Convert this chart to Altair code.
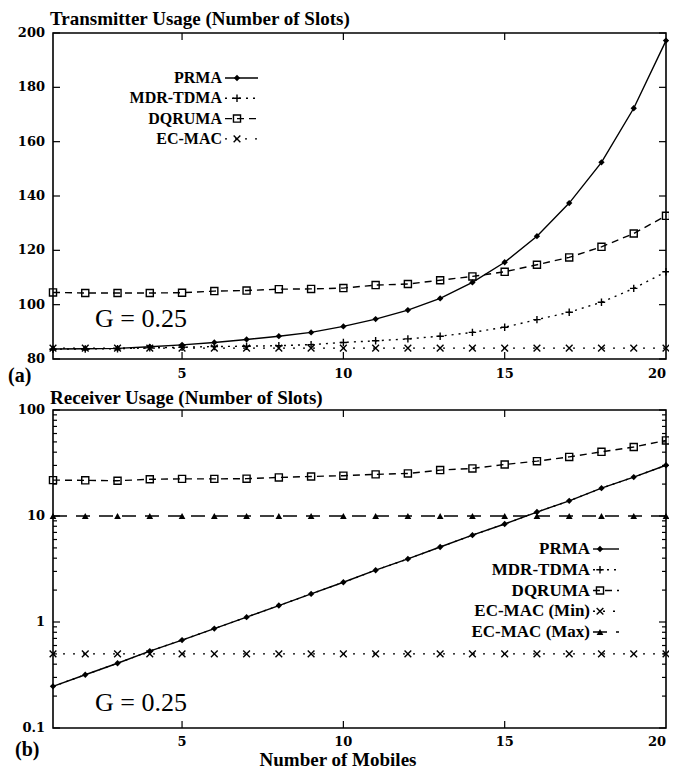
import altair as alt
import pandas as pd

# ---------------- data ----------------
mobiles = list(range(1, 21))

# (a) Transmitter usage (number of slots)
tx_prma = [83.7, 83.8, 83.9, 84.5, 85.2, 86.1, 87.2, 88.4, 89.8, 92.0,
           94.7, 98.0, 102.3, 108.2, 115.6, 125.2, 137.4, 152.4, 172.3, 197.2]
tx_mdr = [83.6, 83.7, 83.8, 84.1, 84.3, 84.6, 84.7, 84.9, 85.3, 86.1,
          86.7, 87.4, 88.4, 89.8, 91.7, 94.5, 97.2, 100.9, 106.0, 112.1]
tx_dqruma = [104.5, 104.3, 104.3, 104.3, 104.4, 105.0, 105.2, 105.7, 105.8, 106.1,
             107.2, 107.6, 109.0, 110.4, 112.1, 114.7, 117.4, 121.3, 126.2, 132.7]
tx_ecmac = [84.0, 84.0, 84.0, 84.0, 84.0, 84.0, 84.0, 84.0, 84.0, 84.0,
            84.0, 84.0, 84.0, 84.0, 84.0, 84.0, 84.0, 84.0, 84.0, 84.0]

# (b) Receiver usage (number of slots), log scale
rx_prma = [0.247, 0.318, 0.408, 0.532, 0.675, 0.867, 1.11, 1.43, 1.84, 2.37,
           3.08, 3.94, 5.1, 6.6, 8.4, 10.9, 13.9, 18.3, 23.3, 30.1]
rx_mdr = [0.247, 0.318, 0.408, 0.532, 0.675, 0.867, 1.11, 1.43, 1.84, 2.37,
          3.08, 3.94, 5.1, 6.6, 8.4, 10.9, 13.9, 18.3, 23.3, 30.1]
rx_dqruma = [21.8, 21.7, 21.5, 22.2, 22.4, 22.4, 22.5, 23.1, 23.6, 24.0,
             24.7, 25.2, 27.1, 28.1, 30.6, 32.9, 36.1, 40.3, 44.8, 51.6]
rx_ecmac_min = [0.5, 0.5, 0.5, 0.5, 0.5, 0.5, 0.5, 0.5, 0.5, 0.5,
                0.5, 0.5, 0.5, 0.5, 0.5, 0.5, 0.5, 0.5, 0.5, 0.5]
rx_ecmac_max = [10, 10, 10, 10, 10, 10, 10, 10, 10, 10,
                10, 10, 10, 10, 10, 10, 10, 10, 10, 10]

legend_a = ["PRMA", "MDR-TDMA", "DQRUMA", "EC-MAC"]
legend_b = ["PRMA", "MDR-TDMA", "DQRUMA", "EC-MAC (Min)", "EC-MAC (Max)"]

x_ticks = [5, 10, 15, 20]
ya_ticks = [80, 100, 120, 140, 160, 180, 200]
ya_labels = ["80", "100", "120", "140", "160", "180", "200"]
yb_ticks = [0.1, 1, 10, 100]
yb_labels = ["0.1", "1", "10", "100"]
yb_minor = [0.2, 0.3, 0.4, 0.5, 0.6, 0.7, 0.8, 0.9,
            2, 3, 4, 5, 6, 7, 8, 9,
            20, 30, 40, 50, 60, 70, 80, 90]

# ---------------- layout (pixels inside one canvas) ----------------
CW, CH = 661, 760
PX0, PX1 = 45, 658
A_TOP, A_BOT = 25, 351
B_TOP, B_BOT = 402, 720

SERIF = "Liberation Serif"
TICKFONT = "DejaVu Serif"
PLUS = "M-1,0L1,0M0,-1L0,1"
CROSS = "M-1,-1L1,1M-1,1L1,-1"

styles = {
    "PRMA": dict(dash=None, shape="diamond", filled=True, size=40),
    "MDR-TDMA": dict(dash=[2, 5], shape=PLUS, filled=False, size=55),
    "DQRUMA": dict(dash=[7, 5], shape="square", filled=False, size=50),
    "EC-MAC": dict(dash=[2, 8], shape=CROSS, filled=False, size=45),
    "EC-MAC (Min)": dict(dash=[2, 8], shape=CROSS, filled=False, size=45),
    "EC-MAC (Max)": dict(dash=[14, 9], shape="triangle-up", filled=True, size=45),
}


def xs():
    return alt.Scale(domain=[1, 20], range=[PX0, PX1], nice=False, zero=False)


def ya():
    return alt.Scale(domain=[80, 200], range=[A_BOT, A_TOP], nice=False, zero=False)


def yb():
    return alt.Scale(type="log", domain=[0.1, 100], range=[B_BOT, B_TOP], nice=False)


def series(name, values, yscale_fn, points=True):
    st = styles[name]
    df = pd.DataFrame({"m": mobiles, "v": values})
    enc = dict(x=alt.X("m:Q", scale=xs(), axis=None),
               y=alt.Y("v:Q", scale=yscale_fn(), axis=None))
    lkw = dict(color="black", strokeWidth=1.4)
    if st["dash"]:
        lkw["strokeDash"] = st["dash"]
    out = [alt.Chart(df).mark_line(**lkw).encode(**enc)]
    if points:
        out.append(alt.Chart(df).mark_point(shape=st["shape"], filled=st["filled"], size=st["size"],
                                            color="black", strokeWidth=1.4, opacity=1).encode(**enc))
    return out


def frame(top, bot):
    d = pd.DataFrame({"k": [0]})
    return alt.Chart(d).mark_rect(fillOpacity=0, stroke="black", strokeWidth=1.6).encode(
        x=alt.value(PX0), x2=alt.value(PX1), y=alt.value(top), y2=alt.value(bot))


def inward_ticks(yvals, yscale_fn, top, bot, length, with_x=True):
    layers = []
    ydf = pd.DataFrame({"v": yvals})
    for x0, x1 in [(PX0, PX0 + length), (PX1 - length, PX1)]:
        layers.append(alt.Chart(ydf).mark_rule(color="black", strokeWidth=1.2).encode(
            y=alt.Y("v:Q", scale=yscale_fn(), axis=None), x=alt.value(x0), x2=alt.value(x1)))
    if with_x:
        xdf = pd.DataFrame({"v": x_ticks[:-1]})
        for y0, y1 in [(bot - length, bot), (top, top + length)]:
            layers.append(alt.Chart(xdf).mark_rule(color="black", strokeWidth=1.2).encode(
                x=alt.X("v:Q", scale=xs(), axis=None), y=alt.value(y0), y2=alt.value(y1)))
    return layers


def y_labels(vals, labels, yscale_fn):
    d = pd.DataFrame({"v": vals, "t": labels})
    return alt.Chart(d).mark_text(align="right", baseline="middle", font=TICKFONT, fontSize=13,
                                  fontWeight="bold", color="black").encode(
        y=alt.Y("v:Q", scale=yscale_fn(), axis=None), x=alt.value(PX0 - 8), text="t:N")


def x_labels(ypos):
    inner = pd.DataFrame({"v": x_ticks[:-1], "t": [str(v) for v in x_ticks[:-1]]})
    last = pd.DataFrame({"v": x_ticks[-1:], "t": [str(v) for v in x_ticks[-1:]]})
    kw = dict(baseline="middle", font=TICKFONT, fontSize=13, fontWeight="bold", color="black")
    return [
        alt.Chart(inner).mark_text(align="center", **kw).encode(
            x=alt.X("v:Q", scale=xs(), axis=None), y=alt.value(ypos), text="t:N"),
        alt.Chart(last).mark_text(align="right", **kw).encode(
            x=alt.X("v:Q", scale=xs(), axis=None), y=alt.value(ypos), text="t:N"),
    ]


def legend(names, text_right, y0, step, lx0, lx1, mx, fsize):
    layers = []
    for i, name in enumerate(names):
        st = styles[name]
        yy = y0 + i * step
        d = pd.DataFrame({"label": [name]})
        layers.append(alt.Chart(d).mark_text(align="right", baseline="middle", font=SERIF,
                                             fontSize=fsize, fontWeight="bold", color="black").encode(
            text="label:N", x=alt.value(text_right), y=alt.value(yy)))
        rkw = dict(color="black", strokeWidth=1.4)
        if st["dash"]:
            rkw["strokeDash"] = st["dash"]
        layers.append(alt.Chart(d).mark_rule(**rkw).encode(
            x=alt.value(lx0), x2=alt.value(lx1), y=alt.value(yy)))
        layers.append(alt.Chart(d).mark_point(shape=st["shape"], filled=st["filled"], size=st["size"],
                                              color="black", strokeWidth=1.4, opacity=1).encode(
            x=alt.value(mx), y=alt.value(yy)))
    return layers


def label(txt, x, y, size, weight="normal", align="left", baseline="alphabetic"):
    d = pd.DataFrame({"t": [txt]})
    return alt.Chart(d).mark_text(align=align, baseline=baseline, font=SERIF, fontSize=size,
                                  fontWeight=weight, color="black").encode(
        text="t:N", x=alt.value(x), y=alt.value(y))


layers = []

# ---------------- panel (a) ----------------
layers += series("PRMA", tx_prma, ya)
layers += series("MDR-TDMA", tx_mdr, ya)
layers += series("DQRUMA", tx_dqruma, ya)
layers += series("EC-MAC", tx_ecmac, ya)
layers += inward_ticks(ya_ticks, ya, A_TOP, A_BOT, 7)
layers.append(frame(A_TOP, A_BOT))
layers.append(y_labels(ya_ticks, ya_labels, ya))
layers += x_labels(A_BOT + 15)
layers += legend(legend_a, 214, A_TOP + 45, 20.3, 217, 250, 229, 16)
layers.append(label("Transmitter Usage (Number of Slots)", 42, 17, 19, "bold"))
layers.append(label("G = 0.25", 87, A_BOT - 32, 26))
layers.append(label("(a)", 0, A_BOT + 17, 20, "bold", baseline="middle"))

# ---------------- panel (b) ----------------
layers += series("PRMA", rx_prma, yb)
layers += series("MDR-TDMA", rx_mdr, yb, points=False)
layers += series("DQRUMA", rx_dqruma, yb)
layers += series("EC-MAC (Min)", rx_ecmac_min, yb)
layers += series("EC-MAC (Max)", rx_ecmac_max, yb)
layers += inward_ticks(yb_ticks, yb, B_TOP, B_BOT, 7)
layers += inward_ticks(yb_minor, yb, B_TOP, B_BOT, 4, with_x=False)
layers.append(frame(B_TOP, B_BOT))
layers.append(y_labels(yb_ticks, yb_labels, yb))
layers += x_labels(B_BOT + 14)
layers += legend(legend_b, 582, B_TOP + 139, 20.75, 585, 611, 592, 17)
layers.append(label("Receiver Usage (Number of Slots)", 42, B_TOP - 6, 19, "bold"))
layers.append(label("G = 0.25", 87, B_BOT - 17, 26))
layers.append(label("(b)", 7, B_BOT + 22, 20, "bold", baseline="middle"))
layers.append(label("Number of Mobiles", 330, B_BOT + 38, 19, "bold", align="center"))

chart = alt.layer(*layers).resolve_scale(y="independent").properties(
    width=CW, height=CH,
    autosize=alt.AutoSizeParams(type="none"),
    padding=0,
    background="white",
).configure_view(strokeWidth=0)

chart.save("out.html", embed_options={"renderer": "svg", "actions": False})
